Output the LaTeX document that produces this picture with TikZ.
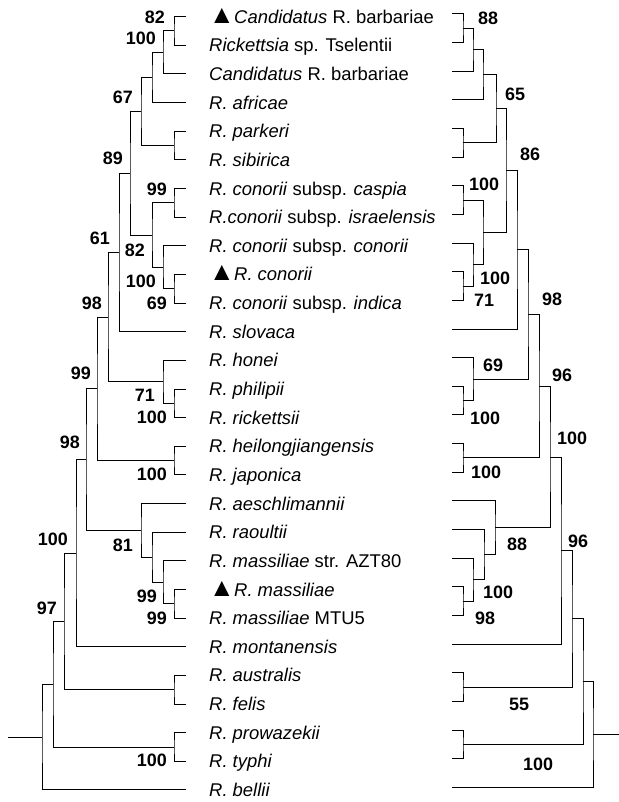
\documentclass[tikz,border=0pt]{standalone}
\usepackage{fontspec}
\setmainfont{Liberation Sans}
\newcommand\bsfont{\fontsize{18}{20}\selectfont\bfseries}
\newcommand\txfont{\fontsize{18.5}{20}\selectfont}
\newcommand\tri{\makebox[25bp][l]{\scalebox{1.4}{▲}}}
\begin{document}
\begin{tikzpicture}[x=1bp,y=-1bp,
  tree/.style={line width=1bp},
  bs/.style={font=\bsfont, inner sep=0pt},
  bsl/.style={bs, anchor=east},
  bsr/.style={bs, anchor=west},
  taxon/.style={font=\txfont, inner sep=0pt, anchor=base west}]
\useasboundingbox (0,0) rectangle (619,802);
\foreach \i in {0,...,27} {
  \coordinate (L\i) at (185.7,{16.7+28.64*\i});
  \coordinate (R\i) at (452,{14+28.64*\i});
}
% taxa
\node[taxon] (t0) at (209,{16.7+28.64*0+6.5}) {\tri\textit{Candidatus} R. barbariae};
\node[taxon] (t1) at (209,{16.7+28.64*1+6.5}) {\textit{Rickettsia} sp. Tselentii};
\node[taxon] (t2) at (209,{16.7+28.64*2+6.5}) {\textit{Candidatus} R. barbariae};
\node[taxon] (t3) at (209,{16.7+28.64*3+6.5}) {\textit{R. africae}};
\node[taxon] (t4) at (209,{16.7+28.64*4+6.5}) {\textit{R. parkeri}};
\node[taxon] (t5) at (209,{16.7+28.64*5+6.5}) {\textit{R. sibirica}};
\node[taxon] (t6) at (209,{16.7+28.64*6+6.5}) {\textit{R. conorii} subsp. \textit{caspia}};
\node[taxon] (t7) at (209,{16.7+28.64*7+6.5}) {\textit{R.conorii} subsp. \textit{israelensis}};
\node[taxon] (t8) at (209,{16.7+28.64*8+6.5}) {\textit{R. conorii} subsp. \textit{conorii}};
\node[taxon] (t9) at (209,{16.7+28.64*9+6.5}) {\tri\textit{R. conorii}};
\node[taxon] (t10) at (209,{16.7+28.64*10+6.5}) {\textit{R. conorii} subsp. \textit{indica}};
\node[taxon] (t11) at (209,{16.7+28.64*11+6.5}) {\textit{R. slovaca}};
\node[taxon] (t12) at (209,{16.7+28.64*12+6.5}) {\textit{R. honei}};
\node[taxon] (t13) at (209,{16.7+28.64*13+6.5}) {\textit{R. philipii}};
\node[taxon] (t14) at (209,{16.7+28.64*14+6.5}) {\textit{R. rickettsii}};
\node[taxon] (t15) at (209,{16.7+28.64*15+6.5}) {\textit{R. heilongjiangensis}};
\node[taxon] (t16) at (209,{16.7+28.64*16+6.5}) {\textit{R. japonica}};
\node[taxon] (t17) at (209,{16.7+28.64*17+6.5}) {\textit{R. aeschlimannii}};
\node[taxon] (t18) at (209,{16.7+28.64*18+6.5}) {\textit{R. raoultii}};
\node[taxon] (t19) at (209,{16.7+28.64*19+6.5}) {\textit{R. massiliae} str. AZT80};
\node[taxon] (t20) at (209,{16.7+28.64*20+6.5}) {\tri\textit{R. massiliae}};
\node[taxon] (t21) at (209,{16.7+28.64*21+6.5}) {\textit{R. massiliae} MTU5};
\node[taxon] (t22) at (209,{16.7+28.64*22+6.5}) {\textit{R. montanensis}};
\node[taxon] (t23) at (209,{16.7+28.64*23+6.5}) {\textit{R. australis}};
\node[taxon] (t24) at (209,{16.7+28.64*24+6.5}) {\textit{R. felis}};
\node[taxon] (t25) at (209,{16.7+28.64*25+6.5}) {\textit{R. prowazekii}};
\node[taxon] (t26) at (209,{16.7+28.64*26+6.5}) {\textit{R. typhi}};
\node[taxon] (t27) at (209,{16.7+28.64*27+6.5}) {\textit{R. bellii}};
% left tree nodes
\coordinate (a01) at (174,31.0);
\coordinate (a012) at (163,52.5);
\coordinate (a0123) at (152,77.6);
\coordinate (a45) at (174,145.6);
\coordinate (n67) at (141,111.6);
\coordinate (a67) at (174,202.9);
\coordinate (a910) at (174,288.8);
\coordinate (a8910) at (163,267.3);
\coordinate (n82) at (152,235.1);
\coordinate (n89) at (130,173.4);
\coordinate (n61) at (119,252.6);
\coordinate (a1314) at (174,403.4);
\coordinate (n71) at (163,381.9);
\coordinate (n98a) at (108,317.2);
\coordinate (a1516) at (174,460.6);
\coordinate (n99) at (97,388.9);
\coordinate (a2021) at (174,603.8);
\coordinate (a19) at (163,582.4);
\coordinate (a18) at (152,557.3);
\coordinate (n81) at (141,530.5);
\coordinate (n98b) at (86,459.7);
\coordinate (n100) at (76,553.3);
\coordinate (a2324) at (174,689.8);
\coordinate (n97) at (64,621.5);
\coordinate (a2526) at (174,747.0);
\coordinate (n53) at (53,684.3);
\coordinate (lroot) at (42,737.2);
\coordinate (lstem) at (8,737.2);
\begin{scope}[tree]
\draw (L0) -| (a01) |- (L1);
\draw (a01) -| (a012) |- (L2);
\draw (a012) -| (a0123) |- (L3);
\draw (L4) -| (a45) |- (L5);
\draw (a0123) -| (n67) |- (a45);
\draw (L6) -| (a67) |- (L7);
\draw (L9) -| (a910) |- (L10);
\draw (L8) -| (a8910) |- (a910);
\draw (a67) -| (n82) |- (a8910);
\draw (n67) -| (n89) |- (n82);
\draw (n89) -| (n61) |- (L11);
\draw (L13) -| (a1314) |- (L14);
\draw (L12) -| (n71) |- (a1314);
\draw (n61) -| (n98a) |- (n71);
\draw (L15) -| (a1516) |- (L16);
\draw (n98a) -| (n99) |- (a1516);
\draw (L20) -| (a2021) |- (L21);
\draw (L19) -| (a19) |- (a2021);
\draw (L18) -| (a18) |- (a19);
\draw (L17) -| (n81) |- (a18);
\draw (n99) -| (n98b) |- (n81);
\draw (n98b) -| (n100) |- (L22);
\draw (L23) -| (a2324) |- (L24);
\draw (n100) -| (n97) |- (a2324);
\draw (L25) -| (a2526) |- (L26);
\draw (n97) -| (n53) |- (a2526);
\draw (n53) -| (lroot) |- (L27);
\draw (lroot) -- (lstem);
\end{scope}
% left labels
\node[bsl] (lb1) at (165,17) {82};
\node[bsl] (lb2) at (156,38.5) {100};
\node[bsl] (lb3) at (133,97) {67};
\node[bsl] (lb4) at (123,158.5) {89};
\node[bsl] (lb5) at (167,189) {99};
\node[bsl] (lb6) at (110,238.5) {61};
\node[bsl] (lb7) at (145,250) {82};
\node[bsl] (lb8) at (156,281.5) {100};
\node[bsl] (lb9) at (167,303.5) {69};
\node[bsl] (lb10) at (102,303.5) {98};
\node[bsl] (lb11) at (91,373.5) {99};
\node[bsl] (lb12) at (155,395.5) {71};
\node[bsl] (lb13) at (167,417.5) {100};
\node[bsl] (lb14) at (80,442) {98};
\node[bsl] (lb15) at (167,474.5) {100};
\node[bsl] (lb16) at (68,539.5) {100};
\node[bsl] (lb17) at (133,545) {81};
\node[bsl] (lb18) at (157,596.5) {99};
\node[bsl] (lb19) at (167,618.5) {99};
\node[bsl] (lb20) at (57,608.5) {97};
\node[bsl] (lb21) at (167,760.5) {100};
% right tree nodes
\coordinate (b01) at (463,28.3);
\coordinate (b012) at (473,49.8);
\coordinate (b0123) at (483,74.9);
\coordinate (b45) at (463,142.9);
\coordinate (m65) at (496,108.9);
\coordinate (b67) at (463,200.2);
\coordinate (b910) at (463,286.1);
\coordinate (b8910) at (473,264.6);
\coordinate (m100c) at (483,232.4);
\coordinate (m86) at (506,170.6);
\coordinate (b11) at (517,249.8);
\coordinate (b1314) at (463,400.7);
\coordinate (m69) at (473,379.2);
\coordinate (m98) at (528,314.5);
\coordinate (b1516) at (463,457.9);
\coordinate (m96) at (539,386.2);
\coordinate (b2021) at (463,601.1);
\coordinate (b19) at (473,579.7);
\coordinate (b18) at (484,554.6);
\coordinate (m88) at (495,527.8);
\coordinate (b550) at (550,457.0);
\coordinate (m100) at (561,550.5);
\coordinate (b2324) at (463,687.1);
\coordinate (m96b) at (572,618.8);
\coordinate (b2526) at (463,744.3);
\coordinate (b583) at (583,681.6);
\coordinate (b593) at (593,734.4);
\coordinate (rstem) at (619,734.4);
\begin{scope}[tree]
\draw (R0) -| (b01) |- (R1);
\draw (b01) -| (b012) |- (R2);
\draw (b012) -| (b0123) |- (R3);
\draw (R4) -| (b45) |- (R5);
\draw (b0123) -| (m65) |- (b45);
\draw (R6) -| (b67) |- (R7);
\draw (R9) -| (b910) |- (R10);
\draw (R8) -| (b8910) |- (b910);
\draw (b67) -| (m100c) |- (b8910);
\draw (m65) -| (m86) |- (m100c);
\draw (m86) -| (b11) |- (R11);
\draw (R13) -| (b1314) |- (R14);
\draw (R12) -| (m69) |- (b1314);
\draw (b11) -| (m98) |- (m69);
\draw (R15) -| (b1516) |- (R16);
\draw (m98) -| (m96) |- (b1516);
\draw (R20) -| (b2021) |- (R21);
\draw (R19) -| (b19) |- (b2021);
\draw (R18) -| (b18) |- (b19);
\draw (R17) -| (m88) |- (b18);
\draw (m96) -| (b550) |- (m88);
\draw (b550) -| (m100) |- (R22);
\draw (R23) -| (b2324) |- (R24);
\draw (m100) -| (m96b) |- (b2324);
\draw (R25) -| (b2526) |- (R26);
\draw (m96b) -| (b583) |- (b2526);
\draw (b583) -| (b593) |- (R27);
\draw (b593) -- (rstem);
\end{scope}
% right labels
\node[bsr] (rb1) at (478,18) {88};
\node[bsr] (rb2) at (505,94) {65};
\node[bsr] (rb3) at (520,154) {86};
\node[bsr] (rb4) at (469,184) {100};
\node[bsr] (rb5) at (480,278) {100};
\node[bsr] (rb6) at (474,300) {71};
\node[bsr] (rb7) at (542,299) {98};
\node[bsr] (rb8) at (483,365) {69};
\node[bsr] (rb9) at (470,418) {100};
\node[bsr] (rb10) at (552,375) {96};
\node[bsr] (rb11) at (471,472) {100};
\node[bsr] (rb12) at (557,438) {100};
\node[bsr] (rb13) at (507,544) {88};
\node[bsr] (rb14) at (483,592) {100};
\node[bsr] (rb15) at (475,618) {98};
\node[bsr] (rb16) at (568,541) {96};
\node[bsr] (rb17) at (509,704) {55};
\node[bsr] (rb18) at (523,764) {100};
\end{tikzpicture}
\end{document}
